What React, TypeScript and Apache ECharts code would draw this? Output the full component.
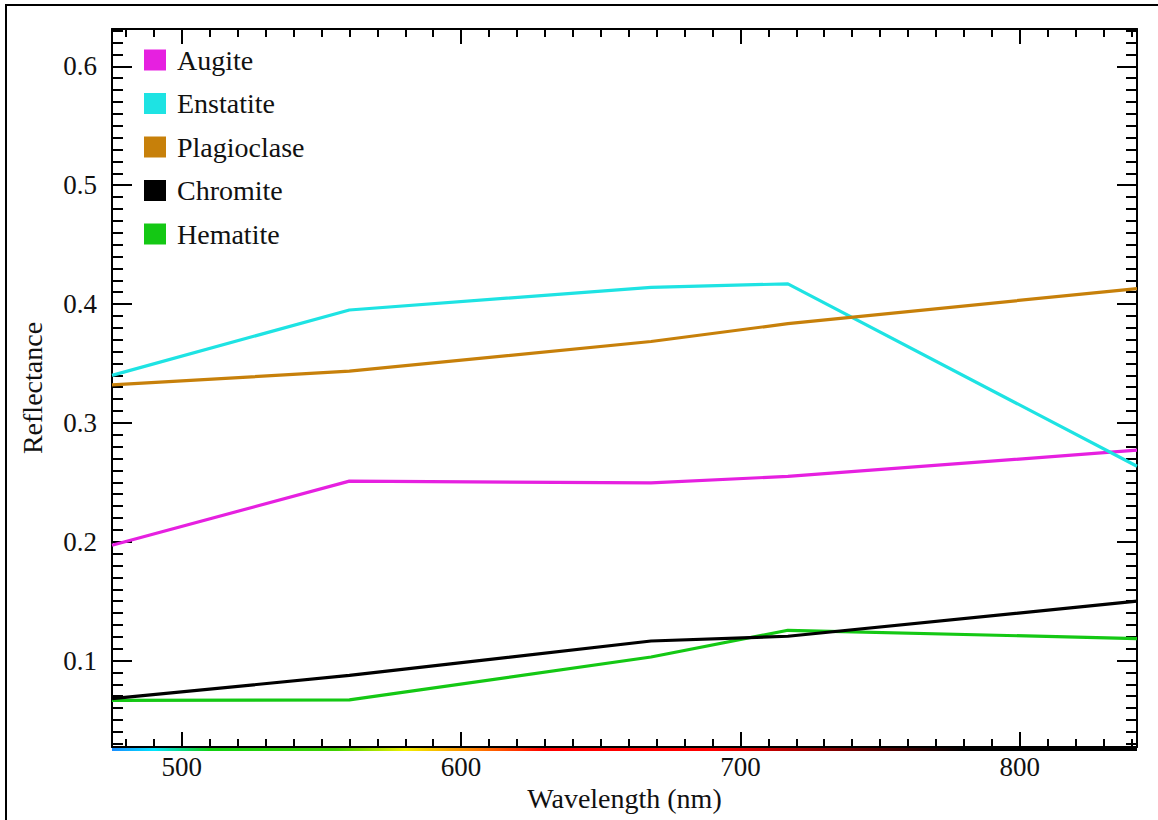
import React, { useEffect, useRef } from "react";
import * as echarts from "echarts";

// ---- data ----
const wavelengths = [475, 560, 668, 717, 842];
const seriesNames = ["Augite", "Enstatite", "Plagioclase", "Chromite", "Hematite"];
const augite = [0.197, 0.251, 0.2495, 0.255, 0.277];
const enstatite = [0.34, 0.395, 0.414, 0.417, 0.2635];
const plagioclase = [0.332, 0.3435, 0.3685, 0.3835, 0.413];
const chromite = [0.068, 0.0875, 0.1165, 0.1205, 0.15];
const hematite = [0.0665, 0.067, 0.103, 0.1255, 0.1185];
const seriesValues = [augite, enstatite, plagioclase, chromite, hematite];
const seriesColors = ["#e620e0", "#1ee3e3", "#c7800a", "#000000", "#14c814"];

const xMin = 475;
const xMax = 842;
const yMin = 0.0273;
const yMax = 0.6314;

// visible-spectrum strip under the x axis (wavelength, colour)
const spectrumWl = [475, 490, 510, 555, 580, 605, 630, 690, 740, 780, 842];
const spectrumCol = ["#1a8cff", "#00e5ff", "#10d010", "#40d000", "#f0f000", "#ff8000", "#ff0000", "#ff0000", "#700000", "#000000", "#000000"];

const FONT = "Liberation Serif";

// layout
const G_LEFT = 112;
const G_TOP = 29;
const G_RIGHT = 1137;
const G_BOTTOM = 747;

export default function App() {
  const ref = useRef<HTMLDivElement>(null);
  useEffect(() => {
    const chart = echarts.init(ref.current!, null, { renderer: "svg" });
    const lineBlack = { color: "#000", width: 2 };
    const xAxisBase = (position: string, major: boolean, labels: boolean) => ({
      type: "value",
      position,
      min: xMin,
      max: xMax,
      splitNumber: major ? 4 : 37,
      axisLine: { show: major, onZero: false, lineStyle: lineBlack },
      axisTick: { show: true, inside: true, length: major ? 15 : 8, lineStyle: lineBlack },
      axisLabel: {
        show: labels,
        showMinLabel: false,
        showMaxLabel: false,
        color: "#111",
        fontFamily: FONT,
        fontSize: 27,
        margin: 6,
      },
      splitLine: { show: false },
      ...(labels
        ? {
            name: "Wavelength (nm)",
            nameLocation: "middle",
            nameGap: 36,
            nameTextStyle: { color: "#111", fontFamily: FONT, fontSize: 28 },
          }
        : {}),
    });
    const yAxisBase = (position: string, major: boolean, labels: boolean) => ({
      type: "value",
      position,
      min: yMin,
      max: yMax,
      splitNumber: major ? 6 : 60,
      axisLine: { show: major, onZero: false, lineStyle: lineBlack },
      axisTick: { show: true, inside: true, length: major ? 20 : 11, lineStyle: lineBlack },
      axisLabel: {
        show: labels,
        showMinLabel: false,
        showMaxLabel: false,
        color: "#111",
        fontFamily: FONT,
        fontSize: 27,
        margin: 15,
      },
      splitLine: { show: false },
      ...(labels
        ? {
            name: "Reflectance",
            nameLocation: "middle",
            nameGap: 66,
            nameTextStyle: { color: "#111", fontFamily: FONT, fontSize: 28 },
          }
        : {}),
    });

    const span = xMax - xMin;
    const option: any = {
      animation: false,
      backgroundColor: "#fff",
      textStyle: { fontFamily: FONT },
      grid: { left: G_LEFT, top: G_TOP, right: 1158 - G_RIGHT, bottom: 820 - G_BOTTOM, containLabel: false },
      legend: {
        orient: "vertical",
        left: 139,
        top: 41,
        icon: "rect",
        itemWidth: 22,
        itemHeight: 21,
        itemGap: 15.5,
        data: seriesNames,
        textStyle: { color: "#111", fontFamily: FONT, fontSize: 28, lineHeight: 28, padding: [0, 0, 0, 6] },
      },
      xAxis: [
        xAxisBase("bottom", true, true),
        xAxisBase("bottom", false, false),
        xAxisBase("top", true, false),
        xAxisBase("top", false, false),
      ],
      yAxis: [
        yAxisBase("left", true, true),
        yAxisBase("left", false, false),
        yAxisBase("right", true, false),
        yAxisBase("right", false, false),
      ],
      series: seriesNames.map((name, i) => ({
        type: "line",
        name,
        xAxisIndex: 0,
        yAxisIndex: 0,
        data: wavelengths.map((w, j) => [w, seriesValues[i][j]]),
        showSymbol: false,
        symbol: "none",
        z: name === "Chromite" ? 4 : 3,
        itemStyle: { color: seriesColors[i] },
        lineStyle: { color: seriesColors[i], width: 3.2 },
      })),
      graphic: [
        {
          type: "rect",
          z: 100,
          shape: { x: G_LEFT, y: G_BOTTOM + 1, width: G_RIGHT - G_LEFT, height: 3 },
          style: {
            fill: {
              type: "linear",
              x: 0,
              y: 0,
              x2: 1,
              y2: 0,
              colorStops: spectrumWl.map((w, k) => ({ offset: (w - xMin) / span, color: spectrumCol[k] })),
            },
          },
        },
        {
          type: "rect",
          z: 100,
          shape: { x: 6, y: 5, width: 1400, height: 1000 },
          style: { fill: "none", stroke: "#000", lineWidth: 2 },
        },
      ],
    };
    chart.setOption(option);
    return () => chart.dispose();
  }, []);
  return (
    <div
      ref={ref}
      style={{ position: "fixed", left: 0, top: 0, width: 1158, height: 820, background: "#fff" }}
    />
  );
}
